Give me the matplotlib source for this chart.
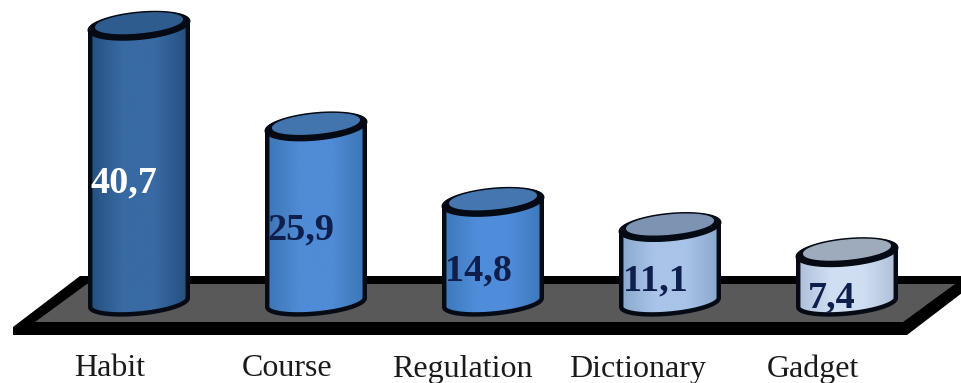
import numpy as np
import matplotlib
matplotlib.use("Agg")
import matplotlib.pyplot as plt
from matplotlib.colors import LinearSegmentedColormap
from matplotlib.patches import Polygon
from matplotlib.transforms import Affine2D

categories = ["Habit", "Course", "Regulation", "Dictionary", "Gadget"]
values = [40.7, 25.9, 14.8, 11.1, 7.4]

# edge, centre and lid shades for each cylinder
edge_colors = ["#25507f", "#3d76b5", "#3d78bb", "#8aa7cd", "#aebfda"]
mid_colors = ["#386aa3", "#4f8bd6", "#4f8ddb", "#a9c4e8", "#cfdef2"]
lid_colors = ["#2f5c8f", "#4274ad", "#4676b0", "#7d93b2", "#9eabbd"]
label_colors = ["#ffffff", "#0f1f4d", "#0f1f4d", "#0f1f4d", "#0f1f4d"]

W, H = 962, 383
PX_PER_CAT = 177.0
PX_PER_UNIT = 6.8
FIRST_X = 139.0
BASE_Y = 302.5

fig = plt.figure(figsize=(W / 100, H / 100), dpi=100, facecolor="white")
ax = fig.add_axes([0, 0, 1, 1])
ax.axis("off")
xlim = (-FIRST_X / PX_PER_CAT, (W - FIRST_X) / PX_PER_CAT)
ylim = ((BASE_Y - H) / PX_PER_UNIT, BASE_Y / PX_PER_UNIT)

# screen-style coordinates (origin top left) for the floor slab
screen = Affine2D().scale(1, -1).translate(0, H)
ax.add_patch(Polygon([(13, 335), (13, 327), (80, 276), (962, 276), (962, 293),
                      (907, 335)], closed=True, facecolor="black", zorder=1,
                     transform=screen))
ax.add_patch(Polygon([(35, 322), (87, 284), (955, 284), (903, 322)], closed=True,
                     facecolor="#595959", zorder=1.1, transform=screen))

TILT = np.deg2rad(5.5)


def ring(cx, cy, a, b, t):
    """Tilted ellipse outline, sizes in pixels, centre in data units."""
    u, v = a * np.cos(t), b * np.sin(t)
    px = u * np.cos(TILT) - v * np.sin(TILT)
    py = u * np.sin(TILT) + v * np.cos(TILT)
    return cx + px / PX_PER_CAT, cy + py / PX_PER_UNIT


half_w = 49.0
half_h = 11.0
for i, (val, c0, c1, c2) in enumerate(zip(values, edge_colors, mid_colors, lid_colors)):
    t_low = np.linspace(np.pi, 2 * np.pi, 80)
    t_top = np.linspace(0, np.pi, 80)
    bx, by = ring(i, 0, half_w, half_h, t_low)
    tx, ty = ring(i, val, half_w, half_h, t_top)
    body = np.column_stack([np.r_[bx, tx], np.r_[by, ty]])

    cmap = LinearSegmentedColormap.from_list("shade", [c0, c1, c1, c0])
    left, right = i - half_w / PX_PER_CAT, i + half_w / PX_PER_CAT
    img = ax.imshow(np.linspace(0, 1, 128)[None, :], cmap=cmap, aspect="auto",
                    extent=(left, right, -3, val + 3), zorder=3 + i,
                    interpolation="bilinear")
    outline = Polygon(body, closed=True, facecolor="none", edgecolor="#050a14",
                      linewidth=3.2, joinstyle="round", zorder=3.2 + i)
    ax.add_patch(outline)
    img.set_clip_path(outline)
    outline.set_clip_on(False)

    # lid: a black rim, heavier along the front, around the inner face
    t_full = np.linspace(0, 2 * np.pi, 160)
    ox, oy = ring(i, val, half_w + 2, half_h + 2.5, t_full)
    ax.fill(ox, oy, color="#050a14", zorder=3.4 + i)
    ix, iy = ring(i, val + 2.5 / PX_PER_UNIT, half_w - 5.5, half_h - 1.5, t_full)
    ax.fill(ix, iy, color=c2, zorder=3.5 + i)

# value labels sit low on each body, left of the axis
label_heights = [17.6, 10.6, 4.6, 3.15, 0.65]
for i, (val, h, col) in enumerate(zip(values, label_heights, label_colors)):
    ax.annotate(f"{val:.1f}".replace(".", ","), xy=(i, h), xytext=(-15, 0),
                textcoords="offset pixels", ha="center", va="center",
                family="Liberation Serif", fontweight="bold", fontsize=27.5,
                color=col, zorder=20)

# category names drift slightly left of the cylinder spacing
name_shifts = [-29, -29, -31, -32, -34]
for i, (name, dx) in enumerate(zip(categories, name_shifts)):
    ax.annotate(name, xy=(i, ylim[0]), xytext=(dx, 14), textcoords="offset pixels",
                ha="center", va="center", family="Liberation Serif", fontsize=23,
                color="#1a1a1a", zorder=20)

ax.set_xlim(*xlim)
ax.set_ylim(*ylim)
fig.savefig("out.png", dpi=100)
